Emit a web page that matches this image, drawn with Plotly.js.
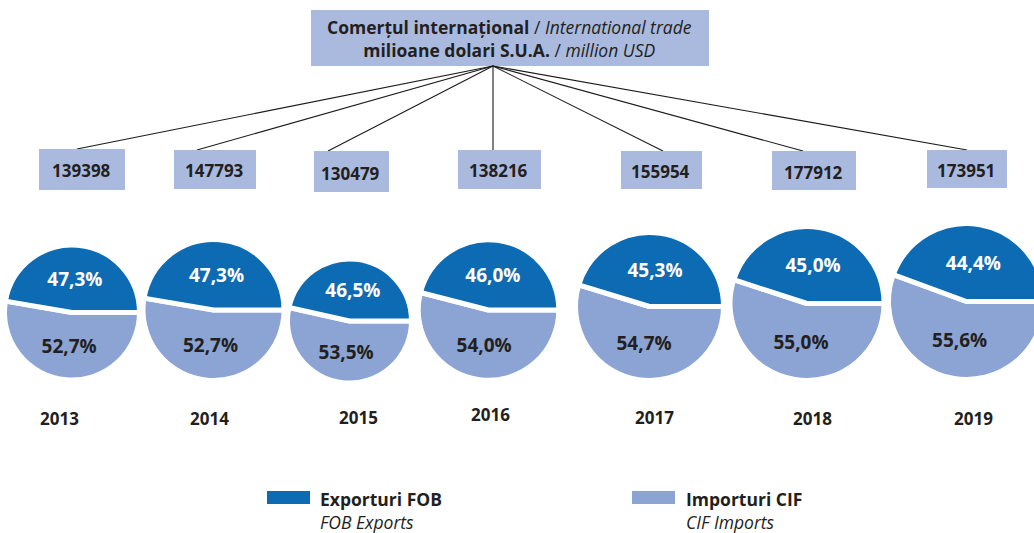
<!DOCTYPE html>
<html>
<head>
<meta charset="utf-8">
<script src="https://cdn.plot.ly/plotly-3.0.1.min.js"></script>
<style>
  html, body { margin: 0; padding: 0; overflow: hidden; background: #ffffff; }
  #chart { width: 1060px; height: 533px; }
</style>
</head>
<body>
<div id="chart"></div>
<script>
// ---------------- data ----------------
const years = ['2013', '2014', '2015', '2016', '2017', '2018', '2019'];
const totals = [139398, 147793, 130479, 138216, 155954, 177912, 173951];
const exportsPct = [47.3, 47.3, 46.5, 46.0, 45.3, 45.0, 44.4];
const importsPct = [52.7, 52.7, 53.5, 54.0, 54.7, 55.0, 55.6];
const seriesLabels = ['Exporturi FOB', 'Importuri CIF'];
const seriesLabelsEn = ['FOB Exports', 'CIF Imports'];
const titleRo = 'Comerțul internațional';
const titleEn = 'International trade';
const unitRo = 'milioane dolari S.U.A.';
const unitEn = 'million USD';

// ---------------- layout (pixels) ----------------
const W = 1060, H = 533;
const px = x => x / W;
const py = y => 1 - y / H;
const pieCx = [72, 213.5, 349.5, 488.5, 649.5, 807, 966.5];
const pieCy = [312.5, 310, 321, 310, 306.5, 303.5, 301.5];
const pieR  = [65, 68, 59.5, 67.75, 71.5, 74.5, 75.5];
const boxX0 = [39, 174, 314, 458, 621, 772, 927];
const boxX1 = [125, 256, 389, 541, 702, 856, 1007];
const boxY0 = [149, 150, 151, 150, 151, 151, 150];
const boxY1 = [190, 189, 192, 189, 189, 190, 188];
const yearX = [59.5, 209.5, 358.5, 490, 654, 812, 973.5];
const yearY = [418, 418, 417, 414, 417.5, 418.5, 418.5];
const hub = [493, 66];
const lineEndX = [77, 197, 328, 493, 663, 803, 967];

const DARK = '#0d6bb4';
const LIGHT = '#8ba4d4';
const BOXC = '#aabadf';
const TXT = '#231f20';
const FONT = 'Open Sans, Noto Sans, sans-serif';
const STROKE = 5;

const fmt = v => v.toFixed(1).replace('.', ',') + '%';

// imports listed first so that, going clockwise from 3 o'clock,
// imports fill the lower part and exports the upper part
const traces = years.map((yr, i) => {
  const R = pieR[i] + STROKE / 2;
  return {
    type: 'pie',
    name: yr,
    labels: [seriesLabels[1], seriesLabels[0]],
    values: [importsPct[i], exportsPct[i]],
    sort: false,
    direction: 'clockwise',
    rotation: 90,
    marker: { colors: [LIGHT, DARK], line: { color: '#ffffff', width: STROKE } },
    textinfo: 'text',
    text: [fmt(importsPct[i]), fmt(exportsPct[i])],
    textposition: 'inside',
    insidetextorientation: 'horizontal',
    textfont: { family: FONT, size: 19, color: [TXT, '#ffffff'], weight: 'bold' },
    hoverinfo: 'none',
    showlegend: false,
    domain: {
      x: [px(pieCx[i] - R), px(pieCx[i] + R)],
      y: [py(pieCy[i] + R), py(pieCy[i] - R)]
    }
  };
});

const shapes = [];
const annotations = [];

// title box
shapes.push({ type: 'rect', xref: 'paper', yref: 'paper',
  x0: px(311), x1: px(709), y0: py(66), y1: py(10),
  fillcolor: BOXC, line: { width: 0 }, layer: 'below' });
annotations.push({ xref: 'paper', yref: 'paper', x: px(509), y: py(38),
  xanchor: 'center', yanchor: 'middle', showarrow: false,
  text: '<b>' + titleRo + '</b> / <i>' + titleEn + '</i><br><b>' + unitRo + '</b> / <i>' + unitEn + '</i>',
  font: { family: FONT, size: 17.5, color: TXT } });

years.forEach((yr, i) => {
  // connector line
  shapes.push({ type: 'line', xref: 'paper', yref: 'paper',
    x0: px(hub[0]), y0: py(hub[1]), x1: px(lineEndX[i]), y1: py(boxY0[i]),
    line: { color: '#1a1a1a', width: 1.1 } });
  // value box
  shapes.push({ type: 'rect', xref: 'paper', yref: 'paper',
    x0: px(boxX0[i]), x1: px(boxX1[i]), y0: py(boxY1[i]), y1: py(boxY0[i]),
    fillcolor: BOXC, line: { width: 0 } });
  annotations.push({ xref: 'paper', yref: 'paper',
    x: px((boxX0[i] + boxX1[i]) / 2 - 1), y: py((boxY0[i] + boxY1[i]) / 2 + 1.5),
    xanchor: 'center', yanchor: 'middle', showarrow: false,
    text: '<b>' + totals[i] + '</b>',
    font: { family: FONT, size: 17, color: TXT } });
  // year label
  annotations.push({ xref: 'paper', yref: 'paper', x: px(yearX[i]), y: py(yearY[i]),
    xanchor: 'center', yanchor: 'middle', showarrow: false,
    text: '<b>' + yr + '</b>',
    font: { family: FONT, size: 17, color: TXT } });
});

// legend
const legSwX = [267, 632];
const legTxX = [318, 684];
const legCol = [DARK, LIGHT];
for (let k = 0; k < 2; k++) {
  shapes.push({ type: 'rect', xref: 'paper', yref: 'paper',
    x0: px(legSwX[k]), x1: px(legSwX[k] + 43), y0: py(504), y1: py(491),
    fillcolor: legCol[k], line: { width: 0 } });
  annotations.push({ xref: 'paper', yref: 'paper', x: px(legTxX[k]), y: py(510),
    xanchor: 'left', yanchor: 'middle', showarrow: false, align: 'left',
    text: '<b>' + seriesLabels[k] + '</b><br><i>' + seriesLabelsEn[k] + '</i>',
    font: { family: FONT, size: 17.5, color: TXT } });
}

const layout = {
  width: W, height: H,
  margin: { l: 0, r: 0, t: 0, b: 0, pad: 0 },
  paper_bgcolor: '#ffffff', plot_bgcolor: '#ffffff',
  showlegend: false,
  shapes: shapes,
  annotations: annotations,
  font: { family: FONT, color: TXT }
};

Plotly.newPlot('chart', traces, layout, { displayModeBar: false, staticPlot: true });
</script>
</body>
</html>
